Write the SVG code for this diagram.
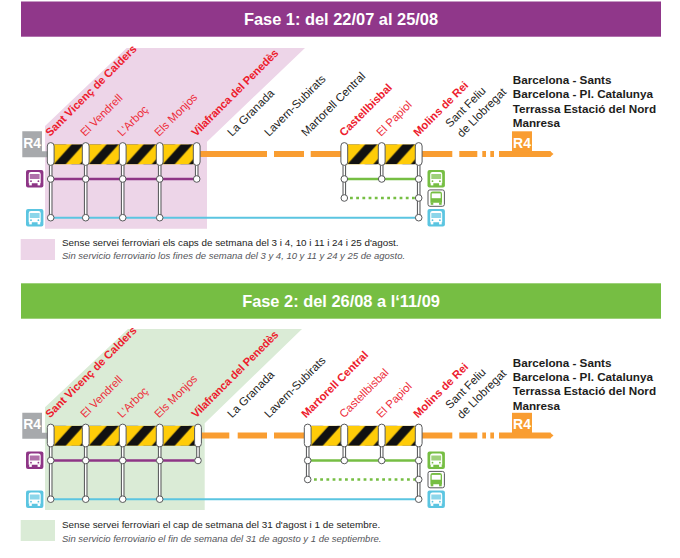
<svg xmlns="http://www.w3.org/2000/svg" width="680" height="558" viewBox="0 0 680 558">
<style>
text{font-family:"Liberation Sans",Arial,sans-serif}
.title{font-size:16.4px;font-weight:700;fill:#fff;text-anchor:middle}
.r4{font-size:14px;font-weight:700;fill:#fff;text-anchor:middle}
.st{font-size:11.5px;fill:#1d1d1b}
.off{font-size:11.3px;fill:#ed2d3a}
.cut{font-size:11.2px;font-weight:700;fill:#ed1c2e}
.dest{font-size:11.7px;font-weight:700;fill:#1d1d1b}
.lg{font-size:9.85px;fill:#1d1d1b}
.lgi{font-size:9.5px;font-style:italic;fill:#55565a}
.rail{stroke:#f99d31;stroke-width:6;fill:none}
.pur{stroke:#8e3586;stroke-width:2.4;fill:none}
.grn{stroke:#76be43;stroke-width:2.4;fill:none}
.dot{stroke:#76be43;stroke-width:2.6;stroke-dasharray:2.8 3.4;fill:none}
.blu{stroke:#5bc5e1;stroke-width:2;fill:none}
.vo{stroke:#58595b;stroke-width:3.6;fill:none}
.vi{stroke:#fff;stroke-width:1.5;fill:none}
.cap{fill:#fff;stroke:#58595b;stroke-width:1}
.nod{fill:#fff;stroke:#58595b;stroke-width:1}
</style>
<defs>
<pattern id="haz" patternUnits="userSpaceOnUse" width="40" height="20">
<rect width="40" height="20" fill="#ffcc08"/>
<polygon points="3,20 15,20 33,0 21,0" fill="#111"/>
<polygon points="29,20 41,20 59,0 47,0" fill="#111"/>
</pattern>
<rect id="seg" width="37" height="20" fill="url(#haz)"/>
<rect id="cp" x="-3.400" y="-11.400" width="6.800" height="22.800" rx="3.400" class="cap"/>
<circle id="nd" r="3.300" class="nod"/>
<g id="busfill">
<rect width="17.400" height="17.400" rx="2" fill="currentColor"/>
<path d="M2.700 4.300q0-2.300 2.300-2.300h7.400q2.300 0 2.300 2.300v9h-12z" fill="#fff"/>
<rect x="3.800" y="4" width="9.800" height="5" fill="currentColor" opacity=".7"/>
<rect x="3.200" y="13" width="2.600" height="2.400" fill="#fff"/>
<rect x="11.600" y="13" width="2.600" height="2.400" fill="#fff"/>
<circle cx="5" cy="11.200" r=".9" fill="currentColor"/>
<circle cx="12.400" cy="11.200" r=".9" fill="currentColor"/>
</g>
<g id="busline">
<rect x=".5" y=".5" width="16.400" height="16.400" rx="2" fill="#fff" stroke="#58595b"/>
<path d="M2.900 4.300q0-2.300 2.300-2.300h7q2.300 0 2.300 2.300v9h-11.600z" fill="#76be43"/>
<rect x="4.200" y="4" width="9" height="4.800" fill="#fff"/>
<rect x="3.200" y="13" width="2.600" height="2.400" fill="#76be43"/>
<rect x="11.600" y="13" width="2.600" height="2.400" fill="#76be43"/>
</g>
</defs>

<g id="banner-1"><rect x="21" y="1.500" width="640" height="35.200" fill="#90378a"/><text class="title" x="341" y="25">Fase 1: del 22/07 al 25/08</text></g>
<g id="banner-2"><rect x="21" y="283.300" width="640" height="35.400" fill="#76be43"/><text class="title" x="341" y="306.700">Fase 2: del 26/08 a l‘11/09</text></g>

<g id="phase-1">
<polygon id="p1-zone" points="45,228.700 45,126 126.700,48 305,48 207,141.700 207,228.700" fill="#edd5e8"/>
<g id="p1-connectors">
<path class="rail" d="M200 154H267M274 154H304M310.700 154H344M422 154H452.300M459.300 154H477.300M482.300 154H486M490.300 154H494M499 154H550.500"/>
<polygon points="550,151 553.500,154 550,157" fill="#f99d31"/>
<path class="pur" d="M51 179H197"/>
<path class="grn" d="M344 179H419"/>
<path class="dot" d="M350 198H416"/>
<path class="blu" d="M51 217.700H419"/>
<path class="vo" d="M50.700 154V217.700M85.700 154V217.700M122.700 154V217.700M159.700 154V217.700M196.700 154V179M344.300 154V198M381.700 154V179M418.700 154V217.700"/>
<path class="vi" d="M50.700 154V217.700M85.700 154V217.700M122.700 154V217.700M159.700 154V217.700M196.700 154V179M344.300 154V198M381.700 154V179M418.700 154V217.700"/>
</g>
<use href="#seg" x="50.700" y="144.300"/><use href="#seg" x="85.700" y="144.300"/><use href="#seg" x="122.700" y="144.300"/><use href="#seg" x="159.700" y="144.300"/><use href="#seg" x="344.300" y="144.300"/><use href="#seg" x="381.700" y="144.300"/>
<g id="p1-r4-start"><path d="M22.300 131.300h19.700v20h7v6h-26.700z" fill="#a7a9ac"/><text class="r4" x="32.200" y="147.500">R4</text></g>
<g id="p1-r4-end"><rect x="512" y="131.300" width="20" height="21" fill="#f99d31"/><text class="r4" x="522" y="147.500">R4</text></g>

<g id="p1-sant-vicenc"><use href="#cp" x="50.700" y="154"/><use href="#nd" x="50.700" y="179"/><use href="#nd" x="50.700" y="217.700"/><text class="cut" transform="translate(50,137) rotate(-45)">Sant Vicenç de Calders</text></g>
<g id="p1-el-vendrell"><use href="#cp" x="85.700" y="154"/><use href="#nd" x="85.700" y="179"/><use href="#nd" x="85.700" y="217.700"/><text class="off" transform="translate(85,137) rotate(-45)">El Vendrell</text></g>
<g id="p1-larboc"><use href="#cp" x="122.700" y="154"/><use href="#nd" x="122.700" y="179"/><use href="#nd" x="122.700" y="217.700"/><text class="off" transform="translate(122,137) rotate(-45)">L'Arboç</text></g>
<g id="p1-els-monjos"><use href="#cp" x="159.700" y="154"/><use href="#nd" x="159.700" y="179"/><use href="#nd" x="159.700" y="217.700"/><text class="off" transform="translate(159,137) rotate(-45)">Els Monjos</text></g>
<g id="p1-vilafranca"><use href="#cp" x="196.700" y="154"/><use href="#nd" x="196.700" y="179"/><text class="cut" letter-spacing="-.2" transform="translate(196,137) rotate(-45)">Vilafranca del Penedès</text></g>
<g id="p1-la-granada"><text class="st" transform="translate(232,137) rotate(-45)">La Granada</text></g>
<g id="p1-lavern"><text class="st" transform="translate(269,137) rotate(-45)">Lavern-Subirats</text></g>
<g id="p1-martorell"><text class="st" transform="translate(306,137) rotate(-45)">Martorell Central</text></g>
<g id="p1-castellbisbal"><use href="#cp" x="344.300" y="154"/><use href="#nd" x="344.300" y="179"/><use href="#nd" x="344.300" y="198"/><text class="cut" transform="translate(344,137) rotate(-45)">Castellbisbal</text></g>
<g id="p1-el-papiol"><use href="#cp" x="381.700" y="154"/><use href="#nd" x="381.700" y="179"/><text class="off" transform="translate(381,137) rotate(-45)">El Papiol</text></g>
<g id="p1-molins"><use href="#cp" x="418.700" y="154"/><use href="#nd" x="418.700" y="179"/><use href="#nd" x="418.700" y="198"/><use href="#nd" x="418.700" y="217.700"/><text class="cut" transform="translate(418,137) rotate(-45)">Molins de Rei</text></g>
<g id="p1-sant-feliu"><text class="st" transform="translate(450,128) rotate(-45)">Sant Feliu</text><text class="st" transform="translate(461.700,138) rotate(-45)">de Llobregat</text></g>
<g id="p1-dest"><text class="dest" x="512.700" y="84.300">Barcelona - Sants</text><text class="dest" x="512.700" y="98">Barcelona - Pl. Catalunya</text><text class="dest" x="512.700" y="112.500">Terrassa Estació del Nord</text><text class="dest" x="512.700" y="126.700">Manresa</text></g>
<g id="p1-bus-purple"><use href="#busfill" x="26" y="170" color="#8e3586"/></g>
<g id="p1-bus-blue-l"><use href="#busfill" x="26" y="209" color="#5bc5e1"/></g>
<g id="p1-bus-green"><use href="#busfill" x="427.500" y="170" color="#76be43"/></g>
<g id="p1-bus-grey"><use href="#busline" x="427.500" y="189.400"/></g>
<g id="p1-bus-blue-r"><use href="#busfill" x="427.500" y="209" color="#5bc5e1"/></g>
<g id="p1-legend"><rect x="20.700" y="239" width="34.300" height="21" fill="#edd5e8"/><text class="lg" x="62" y="246">Sense servei ferroviari els caps de setmana del 3 i 4, 10 i 11 i 24 i 25 d'agost.</text><text class="lgi" x="62" y="259.300">Sin servicio ferroviario los fines de semana del 3 y 4, 10 y 11 y 24 y 25 de agosto.</text></g>
</g>

<g id="phase-2" transform="translate(0 281.500)">
<polygon id="p2-zone" points="45,228.500 45,125.800 128,47.500 302,47.500 204.700,141.800 204.700,228.500" fill="#daebd6"/>
<g id="p2-connectors">
<path class="rail" d="M201.300 154H229.300M237.700 154H267M274 154H304M422 154H452.300M459.300 154H477.300M482.300 154H486M490.300 154H494M499 154H550.500"/>
<polygon points="550,151 553.500,154 550,157" fill="#f99d31"/>
<path class="pur" d="M51 179H198"/>
<path class="grn" d="M308 179H419"/>
<path class="dot" d="M314 198H416"/>
<path class="blu" d="M51 217.700H419"/>
<path class="vo" d="M50.700 154V217.700M85.700 154V217.700M122.700 154V217.700M159.700 154V217.700M198 154V179M307.700 154V198M344.300 154V179M381.700 154V179M418.700 154V217.700"/>
<path class="vi" d="M50.700 154V217.700M85.700 154V217.700M122.700 154V217.700M159.700 154V217.700M198 154V179M307.700 154V198M344.300 154V179M381.700 154V179M418.700 154V217.700"/>
</g>
<use href="#seg" x="50.700" y="144.300"/><use href="#seg" x="85.700" y="144.300"/><use href="#seg" x="122.700" y="144.300"/><use href="#seg" x="159.700" y="144.300"/><use href="#seg" x="307.700" y="144.300"/><use href="#seg" x="344.300" y="144.300"/><use href="#seg" x="381.700" y="144.300"/>
<g id="p2-r4-start"><path d="M22.300 131.300h19.700v20h7v6h-26.700z" fill="#a7a9ac"/><text class="r4" x="32.200" y="147.500">R4</text></g>
<g id="p2-r4-end"><rect x="512" y="131.300" width="20" height="21" fill="#f99d31"/><text class="r4" x="522" y="147.500">R4</text></g>

<g id="p2-sant-vicenc"><use href="#cp" x="50.700" y="154"/><use href="#nd" x="50.700" y="179"/><use href="#nd" x="50.700" y="217.700"/><text class="cut" transform="translate(50,137) rotate(-45)">Sant Vicenç de Calders</text></g>
<g id="p2-el-vendrell"><use href="#cp" x="85.700" y="154"/><use href="#nd" x="85.700" y="179"/><use href="#nd" x="85.700" y="217.700"/><text class="off" transform="translate(85,137) rotate(-45)">El Vendrell</text></g>
<g id="p2-larboc"><use href="#cp" x="122.700" y="154"/><use href="#nd" x="122.700" y="179"/><use href="#nd" x="122.700" y="217.700"/><text class="off" transform="translate(122,137) rotate(-45)">L'Arboç</text></g>
<g id="p2-els-monjos"><use href="#cp" x="159.700" y="154"/><use href="#nd" x="159.700" y="179"/><use href="#nd" x="159.700" y="217.700"/><text class="off" transform="translate(159,137) rotate(-45)">Els Monjos</text></g>
<g id="p2-vilafranca"><use href="#cp" x="198" y="154"/><use href="#nd" x="198" y="179"/><text class="cut" letter-spacing="-.2" transform="translate(196,137) rotate(-45)">Vilafranca del Penedès</text></g>
<g id="p2-la-granada"><text class="st" transform="translate(232,137) rotate(-45)">La Granada</text></g>
<g id="p2-lavern"><text class="st" transform="translate(269,137) rotate(-45)">Lavern-Subirats</text></g>
<g id="p2-martorell"><use href="#cp" x="307.700" y="154"/><use href="#nd" x="307.700" y="179"/><use href="#nd" x="307.700" y="198"/><text class="cut" transform="translate(306,137) rotate(-45)">Martorell Central</text></g>
<g id="p2-castellbisbal"><use href="#cp" x="344.300" y="154"/><use href="#nd" x="344.300" y="179"/><text class="off" transform="translate(344,137) rotate(-45)">Castellbisbal</text></g>
<g id="p2-el-papiol"><use href="#cp" x="381.700" y="154"/><use href="#nd" x="381.700" y="179"/><text class="off" transform="translate(381,137) rotate(-45)">El Papiol</text></g>
<g id="p2-molins"><use href="#cp" x="418.700" y="154"/><use href="#nd" x="418.700" y="179"/><use href="#nd" x="418.700" y="198"/><use href="#nd" x="418.700" y="217.700"/><text class="cut" transform="translate(418,137) rotate(-45)">Molins de Rei</text></g>
<g id="p2-sant-feliu"><text class="st" transform="translate(450,128) rotate(-45)">Sant Feliu</text><text class="st" transform="translate(461.700,138) rotate(-45)">de Llobregat</text></g>
<g id="p2-dest"><text class="dest" x="512.700" y="85.800">Barcelona - Sants</text><text class="dest" x="512.700" y="99.500">Barcelona - Pl. Catalunya</text><text class="dest" x="512.700" y="113.500">Terrassa Estació del Nord</text><text class="dest" x="512.700" y="128.200">Manresa</text></g>
<g id="p2-bus-purple"><use href="#busfill" x="26" y="170" color="#8e3586"/></g>
<g id="p2-bus-blue-l"><use href="#busfill" x="26" y="209" color="#5bc5e1"/></g>
<g id="p2-bus-green"><use href="#busfill" x="427.500" y="170" color="#76be43"/></g>
<g id="p2-bus-grey"><use href="#busline" x="427.500" y="189.400"/></g>
<g id="p2-bus-blue-r"><use href="#busfill" x="427.500" y="209" color="#5bc5e1"/></g>
<g id="p2-legend"><rect x="20.700" y="238.500" width="34.300" height="21" fill="#daebd6"/><text class="lg" x="62" y="246.500">Sense servei ferroviari el cap de setmana del 31 d'agost i 1 de setembre.</text><text class="lgi" x="62" y="260">Sin servicio ferroviario el fin de semana del 31 de agosto y 1 de septiembre.</text></g>
</g>
</svg>
